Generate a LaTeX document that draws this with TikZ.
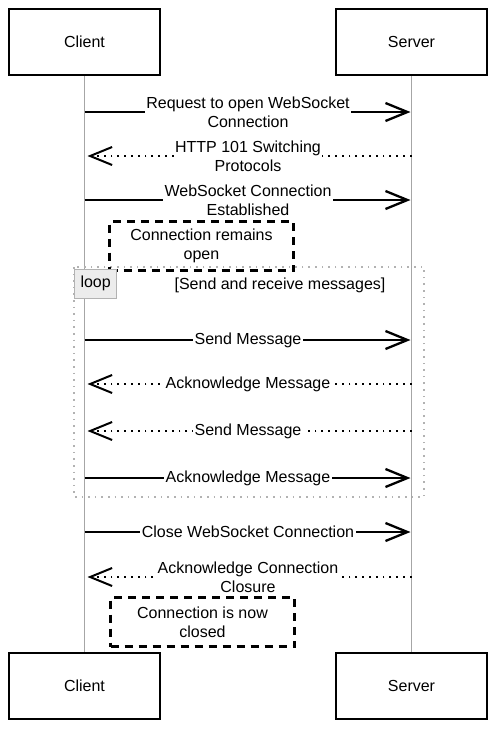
\documentclass[tikz,border=0pt]{standalone}
\usepackage{fontspec}
\setmainfont{Liberation Sans}
\usetikzlibrary{arrows.meta}
\begin{document}
\begin{tikzpicture}[>={Straight Barb[length=22pt,width=18pt]},x=1pt,y=-1pt,
	actor/.style={draw,line width=2.1pt,minimum width=151pt,minimum height=66pt,font=\fontsize{16}{19}\selectfont},
	life/.style={draw=gray!70,line width=1pt},
	sync/.style={->,line width=2.3pt,shorten >=1pt},
	reply/.style={->,line width=2pt,dash pattern=on 1.8pt off 5pt,shorten >=3pt},
	lbl/.style={fill=white,inner sep=1.5pt,align=center,font=\fontsize{16}{19}\selectfont},
	note/.style={draw,line width=2.2pt,dash pattern=on 8pt off 6pt,minimum width=184pt,minimum height=49pt,align=center,font=\fontsize{16}{19}\selectfont},
	loopframe/.style={draw=gray!60,line width=1.6pt,dash pattern=on 1.6pt off 5pt},
	looptag/.style={draw=gray!60,fill=gray!15,line width=1.3pt,minimum width=42pt,minimum height=29pt,inner sep=0pt,font=\fontsize{16}{19}\selectfont}]
	\useasboundingbox (0,0) rectangle (497,729);
	% actors
	\node[actor] (cTop) at (84.5,42) {Client};
	\node[actor] (sTop) at (411.5,42) {Server};
	\node[actor] (cBot) at (84.5,686) {Client};
	\node[actor] (sBot) at (411.5,686) {Server};
	\draw[life] (cTop) -- (cBot);
	\draw[life] (sTop) -- (sBot);
	% message rows
	\foreach \n/\y in {1/112,2/156,3/200,4/340,5/384,6/431,7/478,8/532,9/577}
		{\coordinate (c\n) at (84.5,\y); \coordinate (s\n) at (411.5,\y);}
	\draw[sync] (c1) -- node[lbl] {Request to open WebSocket\\Connection} (s1);
	\draw[reply] (s2) -- node[lbl] {HTTP 101 Switching\\Protocols} (c2);
	\draw[sync] (c3) -- node[lbl] {WebSocket Connection\\Established} (s3);
	% loop block
	\draw[loopframe] (74,267) rectangle (424,497);
	\node[note] (open) at (201.5,246) {Connection remains\\open};
	\node[looptag,anchor=north west] (loop) at (74,268.5) {loop};
	\node[font=\fontsize{16}{19}\selectfont] (cond) at (280,285) {[Send and receive messages]};
	\draw[sync] (c4) -- node[lbl] {Send Message} (s4);
	\draw[reply] (s5) -- node[lbl] {Acknowledge Message} (c5);
	\draw[reply] (s6) -- node[lbl] {Send Message} (c6);
	\draw[sync] (c7) -- node[lbl] {Acknowledge Message} (s7);
	% closing
	\draw[sync] (c8) -- node[lbl] {Close WebSocket Connection} (s8);
	\draw[reply] (s9) -- node[lbl] {Acknowledge Connection\\Closure} (c9);
	\node[note] (closed) at (202.5,622) {Connection is now\\closed};
\end{tikzpicture}
\end{document}
